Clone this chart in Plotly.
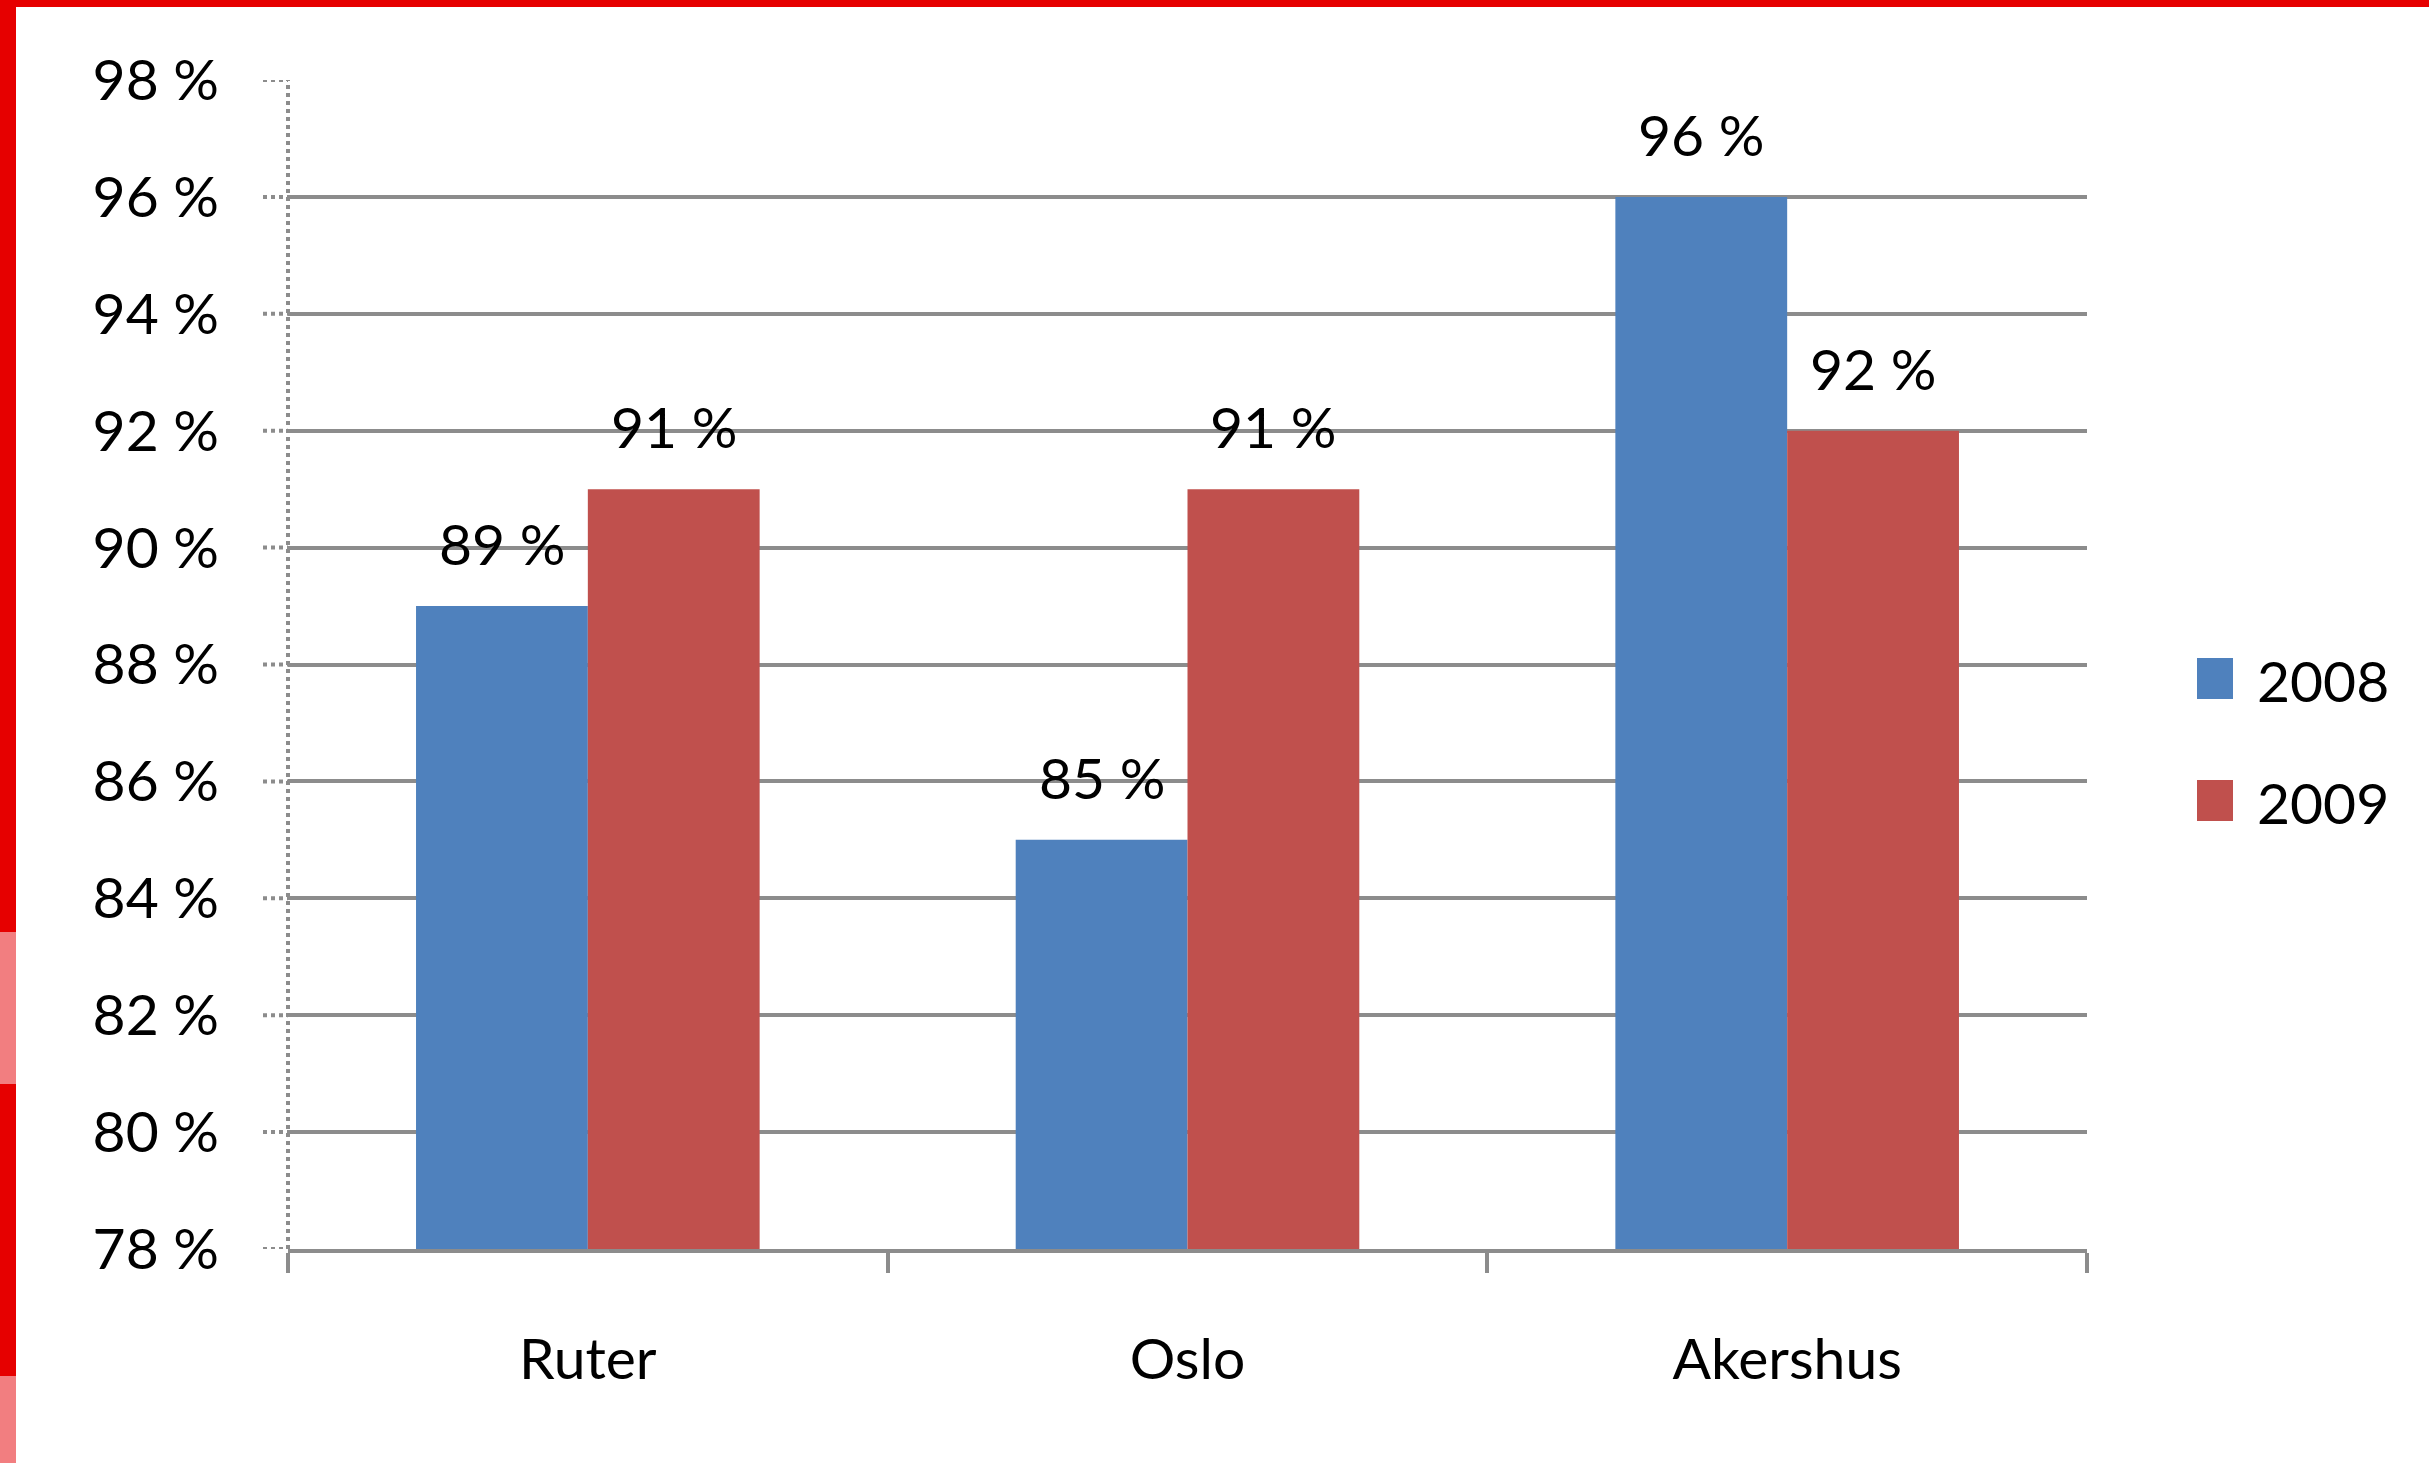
import plotly.graph_objects as go

# ---- data ----
categories = ["Ruter", "Oslo", "Akershus"]
series_names = ["2008", "2009"]
values_2008 = [89, 85, 96]
values_2009 = [91, 91, 92]
y_ticks = [78, 80, 82, 84, 86, 88, 90, 92, 94, 96, 98]

# ---- style ----
W, H = 2429, 1463
L, R, T, B = 288, 342, 80, 214
PW, PH = W - L - R, H - T - B
FONT = "Lato"
FS = 57
GRID = "#8C8C8C"
colors = ["#4F81BD", "#C0504D"]


def px_x(p):
    return (p - L) / PW


def px_y(p):
    return (H - B - p) / PH


fig = go.Figure()
for name, vals, col in zip(series_names, [values_2008, values_2009], colors):
    fig.add_trace(go.Bar(x=categories, y=vals, name=name, marker_color=col,
                         marker_line_width=0, showlegend=False, hoverinfo="skip"))

shapes = []
annotations = []

# data labels
bar_px = PW / len(categories) * (1 - 0.427) / 2
for i, vals in enumerate([values_2008, values_2009]):
    shift = (-0.5 + i) * bar_px
    for c, v in zip(categories, vals):
        annotations.append(dict(x=c, y=v, xref="x", yref="y", text=f"{v} %",
                                showarrow=False, xshift=shift, yshift=63,
                                yanchor="middle", font=dict(family=FONT, size=FS, color="black")))

# dotted y axis line and dotted tick stubs
shapes.append(dict(type="line", xref="paper", yref="paper", x0=0, x1=0, y0=0, y1=1,
                   line=dict(color=GRID, width=4, dash="dot"), layer="above"))
for t in y_ticks:
    shapes.append(dict(type="line", xref="paper", yref="y", x0=px_x(263), x1=0, y0=t, y1=t,
                       line=dict(color=GRID, width=4, dash="dot")))

# manual legend
leg_sq = [(658, 699), (780, 821)]
leg_txt_y = [680, 802]
for name, col, (y0, y1), ty in zip(series_names, colors, leg_sq, leg_txt_y):
    shapes.append(dict(type="rect", xref="paper", yref="paper",
                       x0=px_x(2197), x1=px_x(2233), y0=px_y(y1), y1=px_y(y0),
                       fillcolor=col, line=dict(width=0)))
    annotations.append(dict(xref="paper", yref="paper", x=px_x(2255), y=px_y(ty), text=name,
                            showarrow=False, xanchor="left", yanchor="middle",
                            font=dict(family=FONT, size=FS, color="black")))

# red frame
RED, PINK = "#E60000", "#F27E80"
shapes.append(dict(type="rect", xref="paper", yref="paper", x0=px_x(0), x1=px_x(W),
                   y0=px_y(7), y1=px_y(0), fillcolor=RED, line=dict(width=0)))
shapes.append(dict(type="rect", xref="paper", yref="paper", x0=px_x(0), x1=px_x(16),
                   y0=px_y(H), y1=px_y(0), fillcolor=RED, line=dict(width=0)))
for a, b in [(932, 1084), (1376, H)]:
    shapes.append(dict(type="rect", xref="paper", yref="paper", x0=px_x(0), x1=px_x(16),
                       y0=px_y(b), y1=px_y(a), fillcolor=PINK, line=dict(width=0)))

fig.update_layout(
    width=W, height=H,
    margin=dict(l=L, r=R, t=T, b=B, pad=0),
    paper_bgcolor="white", plot_bgcolor="white",
    barmode="group", bargap=0.427, bargroupgap=0,
    font=dict(family=FONT, size=FS, color="black"),
    showlegend=False,
    shapes=shapes, annotations=annotations,
    xaxis=dict(showline=True, linecolor=GRID, linewidth=4, ticks="outside", ticklen=20,
               tickwidth=4, tickcolor=GRID, tickson="boundaries", showgrid=False,
               ticklabelstandoff=58, tickfont=dict(family=FONT, size=FS, color="black")),
    yaxis=dict(range=[78, 98], tickvals=y_ticks, ticktext=[f"{t} %" for t in y_ticks],
               showgrid=True, gridcolor=GRID, gridwidth=4, zeroline=False, showline=False,
               ticks="", ticklabelstandoff=68,
               tickfont=dict(family=FONT, size=FS, color="black")),
)

fig.write_html("out.html", config={"displayModeBar": False},
               post_script="document.body.style.margin='0';document.body.style.padding='0';")
